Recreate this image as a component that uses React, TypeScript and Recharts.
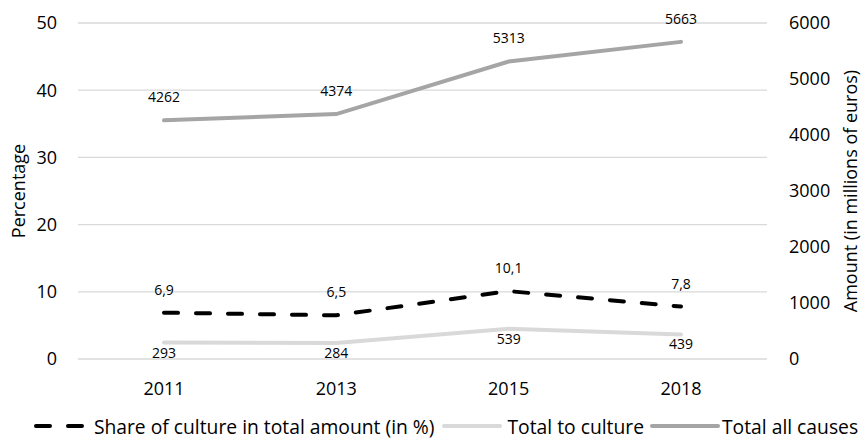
import React from 'react'
import {
  LineChart,
  Line,
  XAxis,
  YAxis,
  CartesianGrid,
  Legend,
  LabelList,
} from 'recharts'

const years = ['2011', '2013', '2015', '2018']
const shareOfCulture = [6.9, 6.5, 10.1, 7.8]
const totalToCulture = [293, 284, 539, 439]
const totalAllCauses = [4262, 4374, 5313, 5663]
const percentTicks = [0, 10, 20, 30, 40, 50]
const amountTicks = [0, 1000, 2000, 3000, 4000, 5000, 6000]

const FONT = '"Open Sans", sans-serif'

const chartData = years.map((year, i) => ({
  year,
  share: shareOfCulture[i],
  culture: totalToCulture[i],
  all: totalAllCauses[i],
}))

const legendItems = [
  { name: 'Share of culture in total amount (in %)', color: '#000000', dash: '14 18', width: 46, gap: 10, after: 8 },
  { name: 'Total to culture', color: '#d9d9d9', dash: undefined, width: 56, gap: 5, after: 6 },
  { name: 'Total all causes', color: '#a5a5a5', dash: undefined, width: 66, gap: 2, after: 0 },
]

function AxisTitle({ viewBox, value, dx }: any) {
  const cx = viewBox.x + dx
  const cy = viewBox.y + viewBox.height / 2
  return (
    <text
      x={cx}
      y={cy}
      transform={`rotate(-90 ${cx} ${cy})`}
      textAnchor="middle"
      dominantBaseline="central"
      fontSize={18}
      fontFamily={FONT}
      fill="#000"
    >
      {value}
    </text>
  )
}

function ChartLegend() {
  return (
    <div
      style={{
        display: 'flex',
        justifyContent: 'center',
        alignItems: 'center',
        height: 30,
        paddingLeft: 26,
        boxSizing: 'border-box',
        fontFamily: FONT,
        fontSize: 19.3,
        color: '#000',
        whiteSpace: 'nowrap',
      }}
    >
      {legendItems.map((item) => (
        <span key={item.name} style={{ display: 'flex', alignItems: 'center', marginRight: item.after }}>
          <svg width={item.width + 4} height={10} style={{ marginRight: item.gap }}>
            <line
              x1={2}
              y1={5}
              x2={item.width + 2}
              y2={5}
              stroke={item.color}
              strokeWidth={4}
              strokeLinecap="round"
              strokeDasharray={item.dash}
            />
          </svg>
          {item.name}
        </span>
      ))}
    </div>
  )
}

export default function App() {
  return (
    <div style={{ position: 'absolute', left: 0, top: 0, background: '#fff' }}>
      <LineChart
        width={866}
        height={444}
        data={chartData}
        margin={{ top: 23, right: 0, left: 0, bottom: 3 }}
      >
        <CartesianGrid yAxisId="left" vertical={false} stroke="#d9d9d9" strokeWidth={1.3} />
        <XAxis
          dataKey="year"
          axisLine={false}
          tickLine={false}
          tickSize={0}
          tickMargin={23}
          height={52}
          padding={{ left: 86, right: 86 }}
          tick={{ fontSize: 18, fill: '#000', fontFamily: FONT }}
        />
        <YAxis
          yAxisId="left"
          domain={[0, 50]}
          ticks={percentTicks}
          axisLine={false}
          tickLine={false}
          tickSize={0}
          tickMargin={21}
          width={78}
          tick={{ fontSize: 18, fill: '#000', fontFamily: FONT }}
          label={<AxisTitle value="Percentage" dx={18} />}
        />
        <YAxis
          yAxisId="right"
          orientation="right"
          domain={[0, 6000]}
          ticks={amountTicks}
          axisLine={false}
          tickLine={false}
          tickSize={0}
          tickMargin={22}
          width={99}
          tick={{ fontSize: 18, fill: '#000', fontFamily: FONT, textAnchor: 'start' }}
          label={<AxisTitle value="Amount (in millions of euros)" dx={83} />}
        />
        <Legend verticalAlign="bottom" content={<ChartLegend />} />
        <Line
          yAxisId="right"
          dataKey="all"
          stroke="#a5a5a5"
          strokeWidth={4}
          strokeLinecap="round"
          dot={false}
          isAnimationActive={false}
        >
          <LabelList dataKey="all" position="top" offset={18} fontSize={14} fill="#000" fontFamily={FONT} />
        </Line>
        <Line
          yAxisId="right"
          dataKey="culture"
          stroke="#d9d9d9"
          strokeWidth={4}
          strokeLinecap="round"
          dot={false}
          isAnimationActive={false}
        >
          <LabelList dataKey="culture" position="bottom" offset={5} fontSize={14} fill="#000" fontFamily={FONT} />
        </Line>
        <Line
          yAxisId="left"
          dataKey="share"
          stroke="#000"
          strokeWidth={4}
          strokeDasharray="14 18"
          strokeLinecap="round"
          dot={false}
          isAnimationActive={false}
        >
          <LabelList
            dataKey="share"
            position="top"
            offset={18}
            fontSize={14}
            fill="#000"
            fontFamily={FONT}
            formatter={(v: any) => String(v).replace('.', ',')}
          />
        </Line>
      </LineChart>
    </div>
  )
}
